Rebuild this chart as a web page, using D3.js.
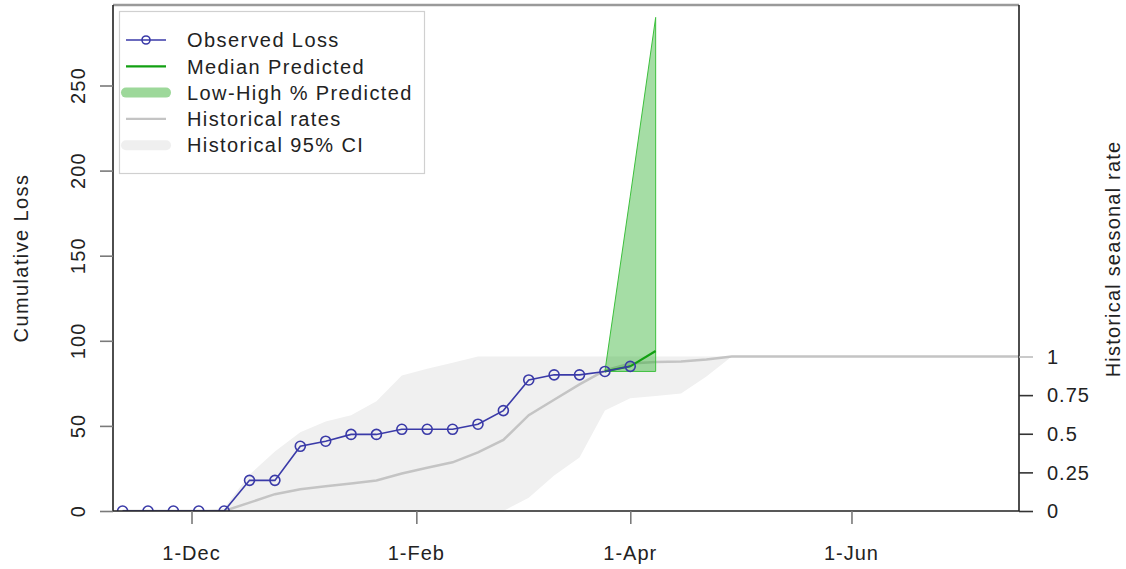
<!DOCTYPE html>
<html><head><meta charset="utf-8">
<script src="https://cdn.jsdelivr.net/npm/d3@7"></script>
<style>
body{margin:0;background:#fff}
text{font-family:"Liberation Sans",Arial,Helvetica,sans-serif;fill:#222}
</style>
</head><body>
<svg id="c" width="1126" height="569"></svg>
<script>
// ---------------- data ----------------
const obsDates = ["2014-11-12","2014-11-19","2014-11-26","2014-12-03","2014-12-10","2014-12-17","2014-12-24",
  "2014-12-31","2015-01-07","2015-01-14","2015-01-21","2015-01-28","2015-02-04","2015-02-11","2015-02-18",
  "2015-02-25","2015-03-04","2015-03-11","2015-03-18","2015-03-25","2015-04-01"];
const obsLoss = [0,0,0,0,0,18,18,38,41,45,45,48,48,48,51,59,77,80,80,82,85];

const predDates = ["2015-03-25","2015-04-01","2015-04-08"];
const predMedian = [82,85,94];
const predLow = [82,82,82];
const predHigh = [82,185,290];

const histDates = ["2014-11-12","2014-11-19","2014-11-26","2014-12-03","2014-12-10","2014-12-17","2014-12-24",
  "2014-12-31","2015-01-07","2015-01-14","2015-01-21","2015-01-28","2015-02-04","2015-02-11","2015-02-18",
  "2015-02-25","2015-03-04","2015-03-11","2015-03-18","2015-03-25","2015-04-01","2015-04-08","2015-04-15",
  "2015-04-22","2015-04-29","2015-07-18"];
const histRate  = [0,0,0,0,0,0.054,0.109,0.141,0.16,0.178,0.197,0.243,0.28,0.315,0.38,0.46,0.62,0.72,0.82,0.91,0.955,0.964,0.968,0.98,1,1];
const histUpper = [0,0,0,0,0.02,0.235,0.385,0.51,0.58,0.62,0.71,0.877,0.92,0.96,1,1,1,1,1,1,1,1,1,1,1,1];
const histLower = [0,0,0,0,0,0,0,0,0,0,0,0,0,0,0,0,0.085,0.23,0.347,0.65,0.73,0.745,0.76,0.87,1,1];

const lossTicks = [0,50,100,150,200,250];
const lossTickLabels = ["0","50","100","150","200","250"];
const rateTicks = [0,0.25,0.5,0.75,1];
const rateTickLabels = ["0","0.25","0.5","0.75","1"];
const xTickDates = ["2014-12-01","2015-02-01","2015-04-01","2015-06-01"];
const xTickLabels = ["1-Dec","1-Feb","1-Apr","1-Jun"];
const legendLabels = ["Observed Loss","Median Predicted","Low-High % Predicted","Historical rates","Historical 95% CI"];

// ---------------- layout ----------------
const parse = d3.utcParse("%Y-%m-%d");
const L = 113, R = 1019, T = 5, B = 511;
const C = {blue:"#3a3aa8", green:"#12a012", greenFill:"rgba(40,175,40,0.42)", greenEdge:"#3cc03c",
           band:"#f0f0f0", hist:"#c4c4c4"};

const svg = d3.select("#c");
const x = d3.scaleUtc()
  .domain([new Date(Date.UTC(2014,10,9,8,24)), new Date(Date.UTC(2015,6,17,4,48))])
  .range([L, R]);
const y = d3.scaleLinear().domain([0,250]).range([B, 85.5]);
const yr = d3.scaleLinear().domain([0,1]).range([B, 356.5]);

svg.append("defs").append("clipPath").attr("id","clip")
  .append("rect").attr("x",L).attr("y",T).attr("width",R-L).attr("height",B-T);
const g = svg.append("g").attr("clip-path","url(#clip)");

// historical band
const hist = histDates.map((d,i)=>({d:parse(d), r:histRate[i], lo:histLower[i], hi:histUpper[i]}));
g.append("path").datum(hist)
  .attr("d", d3.area().x(d=>x(d.d)).y0(d=>yr(d.lo)).y1(d=>yr(d.hi)))
  .attr("fill", C.band);
g.append("path").datum(hist)
  .attr("d", d3.line().x(d=>x(d.d)).y(d=>yr(d.r)))
  .attr("fill","none").attr("stroke",C.hist).attr("stroke-width",2.5);

// predicted range
const pred = predDates.map((d,i)=>({d:parse(d), m:predMedian[i], lo:predLow[i], hi:predHigh[i]}));
g.append("path").datum(pred)
  .attr("d", d3.area().x(d=>x(d.d)).y0(d=>y(d.lo)).y1(d=>y(d.hi)))
  .attr("fill", C.greenFill).attr("stroke", C.greenEdge).attr("stroke-width",1);
g.append("path").datum(pred)
  .attr("d", d3.line().x(d=>x(d.d)).y(d=>y(d.m)))
  .attr("fill","none").attr("stroke",C.green).attr("stroke-width",2.2);

// observed
const obs = obsDates.map((d,i)=>({d:parse(d), v:obsLoss[i]}));
g.append("path").datum(obs)
  .attr("d", d3.line().x(d=>x(d.d)).y(d=>y(d.v)))
  .attr("fill","none").attr("stroke",C.blue).attr("stroke-width",1.6);
g.selectAll("circle.obs").data(obs).join("circle").attr("class","obs")
  .attr("cx",d=>x(d.d)).attr("cy",d=>y(d.v)).attr("r",5)
  .attr("fill","none").attr("stroke",C.blue).attr("stroke-width",1.6);

// frame
svg.append("line").attr("x1",L).attr("x2",R).attr("y1",T).attr("y2",T).attr("stroke","#9a9a9a").attr("stroke-width",2.5);
svg.append("path").attr("d",`M${L},${T}V${B}H${R}V${T}`).attr("fill","none").attr("stroke","#222").attr("stroke-width",1.6);

// axes
const fontSize = 20;
// left
const ax = svg.append("g").attr("transform",`translate(${L},0)`)
  .call(d3.axisLeft(y).tickValues(lossTicks).tickSize(13).tickFormat(""));
ax.select(".domain").remove();
ax.selectAll(".tick line").attr("stroke","#7a7a7a").attr("stroke-width",1.6);
svg.selectAll("text.ylab").data(lossTicks).join("text").attr("class","ylab")
  .attr("transform",(d)=>`translate(85,${y(d)}) rotate(-90)`)
  .attr("text-anchor","middle").attr("font-size",fontSize).attr("letter-spacing",1.2)
  .text((d,i)=>lossTickLabels[i]);
svg.append("text").attr("transform",`translate(28,258) rotate(-90)`)
  .attr("text-anchor","middle").attr("font-size",fontSize).attr("letter-spacing",1.4)
  .text("Cumulative Loss");

// bottom
const bx = svg.append("g").attr("transform",`translate(0,${B})`)
  .call(d3.axisBottom(x).tickValues(xTickDates.map(parse)).tickSize(13).tickFormat(""));
bx.select(".domain").remove();
bx.selectAll(".tick line").attr("stroke","#7a7a7a").attr("stroke-width",1.6);
svg.selectAll("text.xlab").data(xTickDates).join("text").attr("class","xlab")
  .attr("x",d=>x(parse(d))).attr("y",560)
  .attr("text-anchor","middle").attr("font-size",fontSize).attr("letter-spacing",1)
  .text((d,i)=>xTickLabels[i]);

// right
const rx = svg.append("g").attr("transform",`translate(${R},0)`)
  .call(d3.axisRight(yr).tickValues(rateTicks).tickSize(14).tickFormat(""));
rx.select(".domain").remove();
rx.selectAll(".tick line").attr("stroke",(d)=>d===1?"#bdbdbd":"#333").attr("stroke-width",1.6);
svg.selectAll("text.rlab").data(rateTicks).join("text").attr("class","rlab")
  .attr("x",1047).attr("y",d=>yr(d)).attr("dy","0.36em")
  .attr("font-size",fontSize).attr("letter-spacing",1)
  .text((d,i)=>rateTickLabels[i]);
svg.append("text").attr("transform",`translate(1120,259) rotate(-90)`)
  .attr("text-anchor","middle").attr("font-size",fontSize).attr("letter-spacing",1.2)
  .text("Historical seasonal rate");

// legend
const lg = svg.append("g");
lg.append("rect").attr("x",119.5).attr("y",11.5).attr("width",305).attr("height",162)
  .attr("fill","#fff").attr("stroke","#d0d0d0").attr("stroke-width",1.2);
const ly = i => 40 + 26.3*i;
const sx1 = 126, sx2 = 166;
lg.append("line").attr("x1",sx1).attr("x2",sx2).attr("y1",ly(0)).attr("y2",ly(0)).attr("stroke",C.blue).attr("stroke-width",1.6);
lg.append("circle").attr("cx",(sx1+sx2)/2).attr("cy",ly(0)).attr("r",4).attr("fill","none").attr("stroke",C.blue).attr("stroke-width",1.6);
lg.append("line").attr("x1",sx1).attr("x2",sx2).attr("y1",ly(1)).attr("y2",ly(1)).attr("stroke",C.green).attr("stroke-width",2.2);
lg.append("line").attr("x1",sx1).attr("x2",sx2).attr("y1",ly(2)).attr("y2",ly(2)).attr("stroke","#9dd89a").attr("stroke-width",10).attr("stroke-linecap","round");
lg.append("line").attr("x1",sx1).attr("x2",sx2).attr("y1",ly(3)).attr("y2",ly(3)).attr("stroke",C.hist).attr("stroke-width",2.2);
lg.append("line").attr("x1",sx1).attr("x2",sx2).attr("y1",ly(4)).attr("y2",ly(4)).attr("stroke","#efefef").attr("stroke-width",10).attr("stroke-linecap","round");
lg.selectAll("text.lg").data(legendLabels).join("text").attr("class","lg")
  .attr("x",187).attr("y",(d,i)=>ly(i)).attr("dy","0.36em")
  .attr("font-size",fontSize).attr("letter-spacing",1.4)
  .text(d=>d);
</script>
</body></html>
